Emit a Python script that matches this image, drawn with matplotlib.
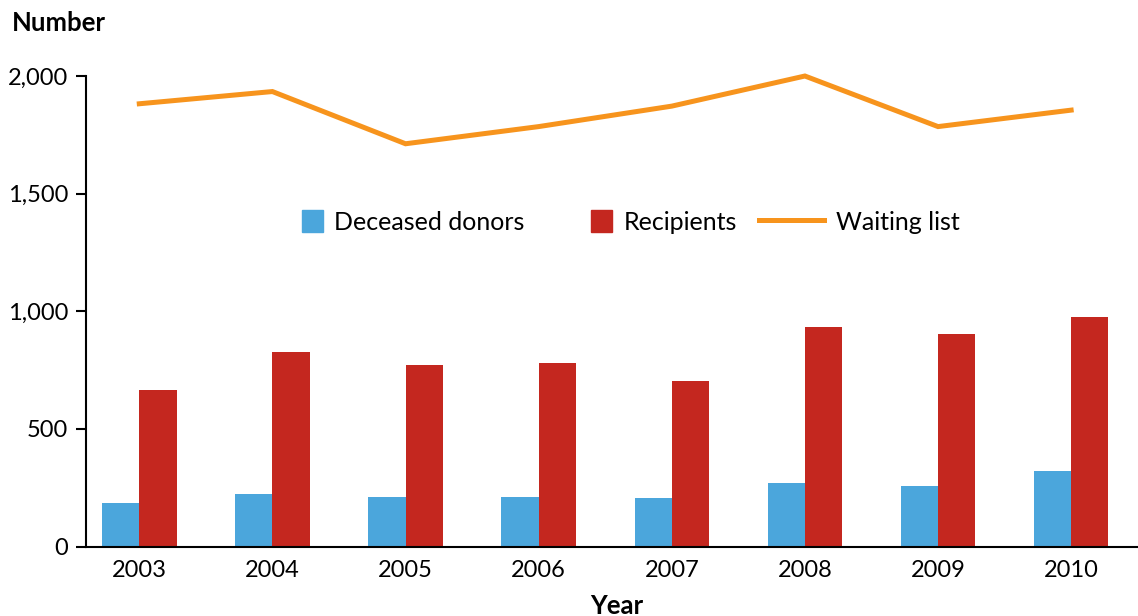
import numpy as np
import matplotlib.pyplot as plt
from matplotlib.patches import Rectangle
from matplotlib.lines import Line2D
from matplotlib.legend_handler import HandlerPatch

plt.rcParams['font.family'] = ['Lato', 'DejaVu Sans']

# data
years = ['2003', '2004', '2005', '2006', '2007', '2008', '2009', '2010']
deceased_donors = [186, 224, 212, 212, 207, 271, 259, 323]
recipients = [664, 827, 771, 780, 703, 934, 904, 976]
waiting_list = [1882, 1934, 1712, 1785, 1872, 2000, 1785, 1855]

c_blue = '#4BA6DC'
c_red = '#C4271F'
c_orange = '#F7941D'

fig = plt.figure(figsize=(11.38, 6.16), dpi=100)
ax = fig.add_axes([0.0756, 0.1128, 0.93, 0.7638])

x = np.arange(len(years))
w = 0.28
ax.bar(x - w / 2, deceased_donors, width=w, color=c_blue, label='Deceased donors')
ax.bar(x + w / 2, recipients, width=w, color=c_red, label='Recipients')
ax.plot(x, waiting_list, color=c_orange, lw=3.6, label='Waiting list',
        clip_on=False, solid_joinstyle='miter')

ax.set_xlim(-0.4, 7.55)
ax.set_ylim(0, 2000)
ax.set_yticks([0, 500, 1000, 1500, 2000])
ax.set_yticklabels(['0', '500', '1,000', '1,500', '2,000'])
ax.set_xticks(x)
ax.set_xticklabels(years)

for s in ['top', 'right']:
    ax.spines[s].set_visible(False)
for s in ['left', 'bottom']:
    ax.spines[s].set_linewidth(1.5)
ax.tick_params(axis='y', length=7, width=1.5, pad=6, labelsize=17)
ax.tick_params(axis='x', length=0, pad=10, labelsize=17)


# squares sit right next to their text, like the reference
def square_patch(legend, orig_handle, xdescent, ydescent, width, height, fontsize):
    s = height
    return Rectangle((width - s - xdescent, -ydescent), s, s)


handles = [Rectangle((0, 0), 1, 1, color=c_blue),
           Rectangle((0, 0), 1, 1, color=c_red),
           Line2D([0], [0], color=c_orange, lw=3.6)]
labels = ['Deceased donors', 'Recipients', 'Waiting list']
ax.legend(handles, labels, ncol=3, frameon=False, fontsize=18,
          handlelength=2.6, handleheight=0.95, handletextpad=0.45,
          columnspacing=0.9, loc='center', bbox_to_anchor=(0.494, 0.69),
          handler_map={Rectangle: HandlerPatch(patch_func=square_patch)})

fig.text(12 / 1138, 1 - 23 / 616, 'Number', fontsize=18.5, fontweight='bold',
         ha='left', va='center')
fig.text(617 / 1138, 1 - 606 / 616, 'Year', fontsize=18.5, fontweight='bold',
         ha='center', va='center')

fig.savefig('out.png', dpi=100)
